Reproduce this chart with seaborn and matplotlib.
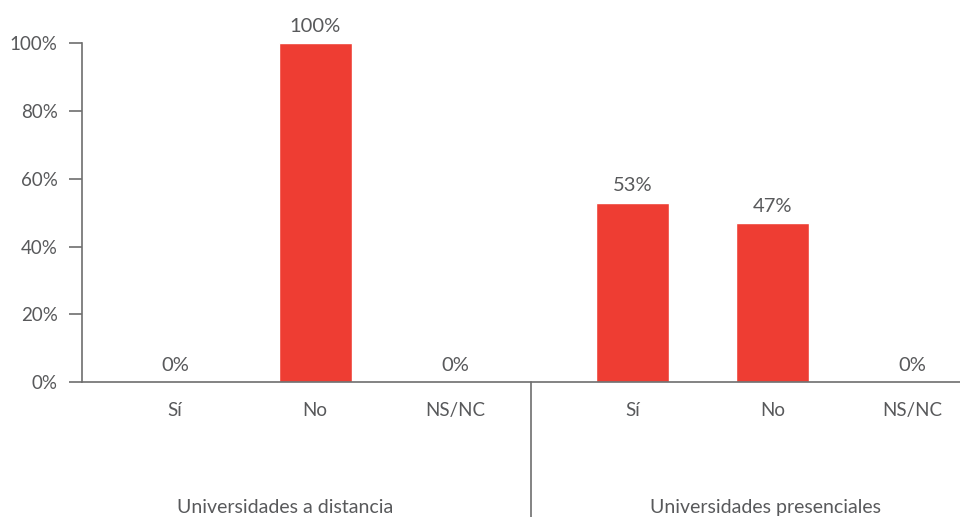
import seaborn as sns
from matplotlib import pyplot as plt
from matplotlib import transforms
import pandas as pd

# data
groups = ["Universidades a distancia", "Universidades presenciales"]
answers = ["Sí", "No", "NS/NC"]
values_distancia = [0, 100, 0]
values_presencial = [53, 47, 0]
y_ticks = [0, 20, 40, 60, 80, 100]

BAR_COLOR = "#EE3D33"
TEXT_COLOR = "#58595B"
LINE_COLOR = "#6E6E6E"
FONT_SIZE = 13.5

rows = []
for group, vals in zip(groups, [values_distancia, values_presencial]):
    for answer, v in zip(answers, vals):
        rows.append({"group": group, "answer": answer, "value": v})
df = pd.DataFrame(rows)

sns.set_theme(style="white")
plt.rcParams["font.family"] = ["Lato", "DejaVu Sans"]

fig = plt.figure(figsize=(9.6, 5.17), dpi=100)
ax = fig.add_axes([0.0854, 0.261, 0.9146, 0.655])

sns.barplot(
    data=df, x="group", y="value", hue="answer", order=groups, hue_order=answers,
    palette=[BAR_COLOR] * 3, saturation=1, width=0.92, gap=0.48,
    legend=False, ax=ax,
)

# value labels and per-bar tick positions
bar_x, bar_labels = [], []
for answer, container in zip(answers, ax.containers):
    vals = df[df["answer"] == answer]["value"].tolist()
    ax.bar_label(container, labels=[f"{v:.0f}%" for v in vals],
                 padding=6, fontsize=14.5, color=TEXT_COLOR)
    for patch in container:
        bar_x.append(patch.get_x() + patch.get_width() / 2)
        bar_labels.append(answer)

ax.set_xlim(-0.51, 1.41)
ax.set_ylim(0, 100)
ax.set_yticks(y_ticks)
ax.set_yticklabels([f"{t}%" for t in y_ticks])
ax.set_xticks(bar_x)
ax.set_xticklabels(bar_labels)
ax.set_xlabel("")
ax.set_ylabel("")

ax.tick_params(axis="y", length=9.5, width=1.2, color=LINE_COLOR, pad=8,
               labelsize=FONT_SIZE, labelcolor=TEXT_COLOR, left=True)
ax.tick_params(axis="x", length=0, pad=14, labelsize=FONT_SIZE, labelcolor=TEXT_COLOR)

for side in ["top", "right"]:
    ax.spines[side].set_visible(False)
for side in ["left", "bottom"]:
    ax.spines[side].set_color(LINE_COLOR)
    ax.spines[side].set_linewidth(1.2)

# group separator and group labels below the axis
trans = transforms.blended_transform_factory(ax.transData, ax.transAxes)
ax.plot([0.471, 0.471], [0, -0.4], transform=trans, color=LINE_COLOR,
        linewidth=1.2, clip_on=False)
group_centers = [-0.065, 0.985]
for g, xc in zip(groups, group_centers):
    ax.text(xc, -0.369, g, transform=trans, ha="center", va="center",
            fontsize=14, color=TEXT_COLOR)

plt.savefig("out.png", dpi=100)
